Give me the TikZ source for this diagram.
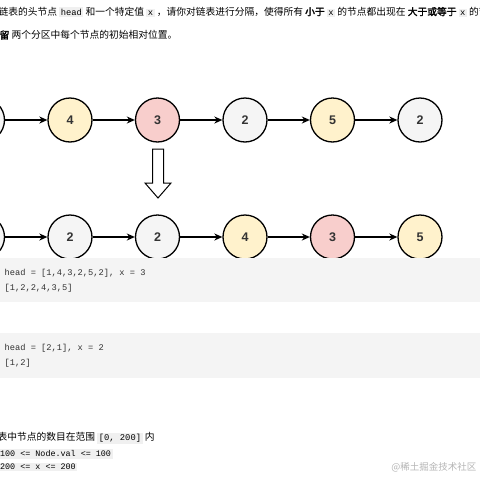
\documentclass[tikz,border=0pt]{standalone}
\usepackage{fontspec}
\setmainfont{Liberation Sans}
\setmonofont{Liberation Mono}
\newfontfamily\cjk{Noto Sans CJK SC}[AutoFakeBold=2]
\usetikzlibrary{arrows.meta,positioning}
\definecolor{fillyellow}{HTML}{FFF2CC}
\definecolor{fillred}{HTML}{F8CECC}
\definecolor{fillgray}{HTML}{F5F5F5}
\definecolor{numtext}{HTML}{333333}
\definecolor{codebg}{HTML}{F4F4F4}
\definecolor{inlinebg}{HTML}{F0F0F0}
\definecolor{markgray}{HTML}{B4B4B4}
\newcommand\icode[2][8.8]{{\setlength\fboxsep{1.5pt}\colorbox{inlinebg}{\ttfamily\fontsize{#1}{9}\selectfont #2}}}

\begin{document}
\begin{tikzpicture}[->,>={Stealth[length=8pt,width=7pt,inset=2.5pt]},
                    x=1pt,y=-1pt,node distance=87.5pt,line width=1.3pt]
  \tikzset{elem/.style={circle,draw=black,minimum size=44pt,inner sep=0pt,
             text=numtext,font=\bfseries\fontsize{12.5}{13}\selectfont},
           desc/.style={anchor=west,inner sep=0pt,text=black,
             font=\cjk\fontsize{9.75}{10}\selectfont},
           codeline/.style={anchor=west,inner sep=0pt,text=numtext,
             font=\ttfamily\fontsize{8.7}{9}\selectfont}}
  \useasboundingbox (0,0) rectangle (480,480);

  % task text
  \node[desc] (L1) at (-2,12) {链表的头节点 \icode{head} 和一个特定值 \icode{x} ，请你对链表进行分隔，使得所有 \textbf{小于} \icode{x} 的节点都出现在 \textbf{大于或等于} \icode{x} 的节点之前};
  \node[desc] (L2) at (-1,35) {\textbf{留} 两个分区中每个节点的初始相对位置。};

  % input list
  \node[elem,fill=fillgray] (T0) at (-17.5,120) {};
  \node[elem,fill=fillyellow] (T1) [right of=T0] {4};
  \node[elem,fill=fillred]    (T2) [right of=T1] {3};
  \node[elem,fill=fillgray]   (T3) [right of=T2] {2};
  \node[elem,fill=fillyellow] (T4) [right of=T3] {5};
  \node[elem,fill=fillgray]   (T5) [right of=T4] {2};

  \path (T0) edge (T1)
        (T1) edge (T2)
        (T2) edge (T3)
        (T3) edge (T4)
        (T4) edge (T5);

  % down arrow
  \draw[-,line width=1pt,fill=white] (152.5,149) -- (163.5,149) -- (163.5,183)
      -- (171,183) -- (158,198) -- (145,183) -- (152.5,183) -- cycle;

  % output list
  \node[elem,fill=fillgray] (B0) at (-17.5,237) {};
  \node[elem,fill=fillgray]   (B1) [right of=B0] {2};
  \node[elem,fill=fillgray]   (B2) [right of=B1] {2};
  \node[elem,fill=fillyellow] (B3) [right of=B2] {4};
  \node[elem,fill=fillred]    (B4) [right of=B3] {3};
  \node[elem,fill=fillyellow] (B5) [right of=B4] {5};

  \path (B0) edge (B1)
        (B1) edge (B2)
        (B2) edge (B3)
        (B3) edge (B4)
        (B4) edge (B5);

  % examples
  \fill[codebg] (0,258) rectangle (480,302);
  \node[codeline] (E1) at (4,273) {head = [1,4,3,2,5,2], x = 3};
  \node[codeline] (R1) at (4,288) {[1,2,2,4,3,5]};
  \fill[codebg] (0,333) rectangle (480,378);
  \node[codeline] (E2) at (4,348) {head = [2,1], x = 2};
  \node[codeline] (R2) at (4,363) {[1,2]};

  % constraints
  \node[desc] (C1) at (-3,438) {表中节点的数目在范围 \icode{[0, 200]} 内};
  \node[desc] (C2) at (-2,454) {\icode[8.4]{100 <= Node.val <= 100}};
  \node[desc] (C3) at (-2,467) {\icode[8.4]{200 <= x <= 200}};
  \node[anchor=east,inner sep=0pt,text=markgray,font=\cjk\fontsize{9.5}{10}\selectfont]
      (WM) at (477,467) {@稀土掘金技术社区};
\end{tikzpicture}
\end{document}
